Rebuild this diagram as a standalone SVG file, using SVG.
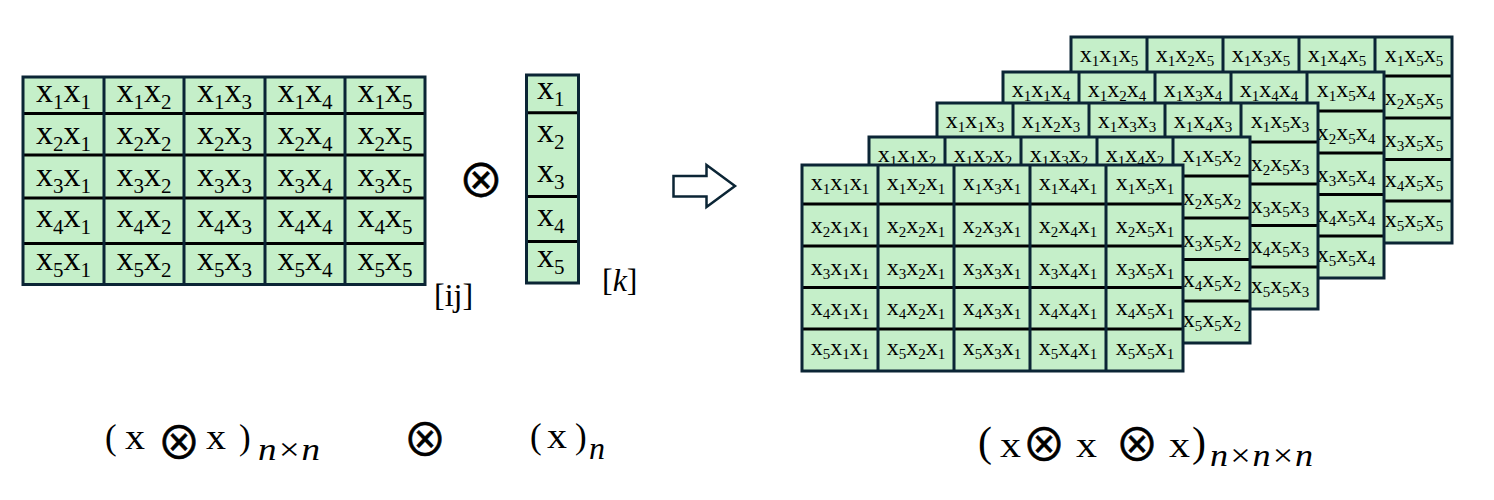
<svg xmlns="http://www.w3.org/2000/svg" width="1494" height="500" viewBox="0 0 1494 500" font-family="'Liberation Serif', serif">
<style>
.cell{fill:#c5efc9}
.hl{stroke:#000;stroke-width:3}
.vl{stroke:#0b2535;stroke-width:3}
.bd{fill:none;stroke:#0b2535;stroke-width:3}
text{font-family:"Liberation Serif","Times New Roman",serif;fill:#000}
.big{font-size:34px;text-anchor:middle}
.big .s{font-size:21px;baseline-shift:-7px}
.vec{font-size:34px}
.vec .s{font-size:21px;baseline-shift:-7px}
.sm{font-size:24px;text-anchor:middle}
.sm .s{font-size:15px;baseline-shift:-4px}
.br{font-size:32px}
.f{font-size:35px}
.fp{font-size:42px}
.fi{font-size:32px;font-style:italic}
.op{font-family:"Noto Sans CJK JP","DejaVu Sans",sans-serif;font-size:44px;stroke:#000;stroke-width:0.6px}
.op46{font-size:46px}
.arrow{fill:#fff;stroke:#0b2535;stroke-width:2.5;stroke-linejoin:miter}
</style>
<defs>
<g id="grid">
<rect class="cell" width="381" height="206"/>
<path class="hl" d="M0 39H381M0 81H381M0 122.5H381M0 164H381"/>
<path class="vl" d="M76 0V206M152 0V206M228 0V206M304 0V206"/>
<rect class="bd" width="381" height="206"/>
</g>
</defs>
<rect width="1494" height="500" fill="#fff"/>

<g id="matrix-xx">
<rect class="cell" x="23" y="77" width="402" height="207.5"/>
<path class="hl" d="M23 113.5H425M23 155H425M23 198H425M23 243.5H425"/>
<path class="vl" d="M104 77V284.5M184 77V284.5M265 77V284.5M345 77V284.5"/>
<rect class="bd" x="23" y="77" width="402" height="207.5"/>
<g class="big">
<text x="63.5" y="102">x<tspan class="s">1</tspan>x<tspan class="s">1</tspan></text>
<text x="144" y="102">x<tspan class="s">1</tspan>x<tspan class="s">2</tspan></text>
<text x="224.5" y="102">x<tspan class="s">1</tspan>x<tspan class="s">3</tspan></text>
<text x="305" y="102">x<tspan class="s">1</tspan>x<tspan class="s">4</tspan></text>
<text x="385" y="102">x<tspan class="s">1</tspan>x<tspan class="s">5</tspan></text>
<text x="63.5" y="144">x<tspan class="s">2</tspan>x<tspan class="s">1</tspan></text>
<text x="144" y="144">x<tspan class="s">2</tspan>x<tspan class="s">2</tspan></text>
<text x="224.5" y="144">x<tspan class="s">2</tspan>x<tspan class="s">3</tspan></text>
<text x="305" y="144">x<tspan class="s">2</tspan>x<tspan class="s">4</tspan></text>
<text x="385" y="144">x<tspan class="s">2</tspan>x<tspan class="s">5</tspan></text>
<text x="63.5" y="186">x<tspan class="s">3</tspan>x<tspan class="s">1</tspan></text>
<text x="144" y="186">x<tspan class="s">3</tspan>x<tspan class="s">2</tspan></text>
<text x="224.5" y="186">x<tspan class="s">3</tspan>x<tspan class="s">3</tspan></text>
<text x="305" y="186">x<tspan class="s">3</tspan>x<tspan class="s">4</tspan></text>
<text x="385" y="186">x<tspan class="s">3</tspan>x<tspan class="s">5</tspan></text>
<text x="63.5" y="227">x<tspan class="s">4</tspan>x<tspan class="s">1</tspan></text>
<text x="144" y="227">x<tspan class="s">4</tspan>x<tspan class="s">2</tspan></text>
<text x="224.5" y="227">x<tspan class="s">4</tspan>x<tspan class="s">3</tspan></text>
<text x="305" y="227">x<tspan class="s">4</tspan>x<tspan class="s">4</tspan></text>
<text x="385" y="227">x<tspan class="s">4</tspan>x<tspan class="s">5</tspan></text>
<text x="63.5" y="270">x<tspan class="s">5</tspan>x<tspan class="s">1</tspan></text>
<text x="144" y="270">x<tspan class="s">5</tspan>x<tspan class="s">2</tspan></text>
<text x="224.5" y="270">x<tspan class="s">5</tspan>x<tspan class="s">3</tspan></text>
<text x="305" y="270">x<tspan class="s">5</tspan>x<tspan class="s">4</tspan></text>
<text x="385" y="270">x<tspan class="s">5</tspan>x<tspan class="s">5</tspan></text>
</g>
<text class="br" x="434" y="306">[ij]</text>
</g>

<g id="op-kron">
<text class="op op46" x="458" y="197">⊗</text>
</g>

<g id="vector-x">
<rect class="cell" x="526.5" y="75" width="52" height="208"/>
<path class="hl" d="M526.5 112.7H578.5M526.5 196.5H578.5M526.5 241.5H578.5"/>
<rect class="bd" x="526.5" y="75" width="52" height="208"/>
<g class="vec">
<text x="537" y="98.5">x<tspan class="s">1</tspan></text>
<text x="537" y="142">x<tspan class="s">2</tspan></text>
<text x="537" y="182">x<tspan class="s">3</tspan></text>
<text x="537" y="226">x<tspan class="s">4</tspan></text>
<text x="537" y="267">x<tspan class="s">5</tspan></text>
</g>
<text class="br" x="602" y="291">[<tspan font-style="italic">k</tspan>]</text>
</g>

<g id="connectors">
<path class="arrow" d="M673.5 176H706.5V165L735 186L706.5 207V196.5H673.5Z"/>
</g>

<g id="layer-5" transform="translate(1071,37)">
<use href="#grid"/>
<g class="sm">
<text x="38" y="25">x<tspan class="s">1</tspan>x<tspan class="s">1</tspan>x<tspan class="s">5</tspan></text>
<text x="114" y="25">x<tspan class="s">1</tspan>x<tspan class="s">2</tspan>x<tspan class="s">5</tspan></text>
<text x="190" y="25">x<tspan class="s">1</tspan>x<tspan class="s">3</tspan>x<tspan class="s">5</tspan></text>
<text x="266" y="25">x<tspan class="s">1</tspan>x<tspan class="s">4</tspan>x<tspan class="s">5</tspan></text>
<text x="343" y="25">x<tspan class="s">1</tspan>x<tspan class="s">5</tspan>x<tspan class="s">5</tspan></text>
<text x="343" y="68">x<tspan class="s">2</tspan>x<tspan class="s">5</tspan>x<tspan class="s">5</tspan></text>
<text x="343" y="110">x<tspan class="s">3</tspan>x<tspan class="s">5</tspan>x<tspan class="s">5</tspan></text>
<text x="343" y="150">x<tspan class="s">4</tspan>x<tspan class="s">5</tspan>x<tspan class="s">5</tspan></text>
<text x="343" y="190">x<tspan class="s">5</tspan>x<tspan class="s">5</tspan>x<tspan class="s">5</tspan></text>
</g>
</g>

<g id="layer-4" transform="translate(1003,72)">
<use href="#grid"/>
<g class="sm">
<text x="38" y="25">x<tspan class="s">1</tspan>x<tspan class="s">1</tspan>x<tspan class="s">4</tspan></text>
<text x="114" y="25">x<tspan class="s">1</tspan>x<tspan class="s">2</tspan>x<tspan class="s">4</tspan></text>
<text x="190" y="25">x<tspan class="s">1</tspan>x<tspan class="s">3</tspan>x<tspan class="s">4</tspan></text>
<text x="266" y="25">x<tspan class="s">1</tspan>x<tspan class="s">4</tspan>x<tspan class="s">4</tspan></text>
<text x="343" y="25">x<tspan class="s">1</tspan>x<tspan class="s">5</tspan>x<tspan class="s">4</tspan></text>
<text x="343" y="68">x<tspan class="s">2</tspan>x<tspan class="s">5</tspan>x<tspan class="s">4</tspan></text>
<text x="343" y="110">x<tspan class="s">3</tspan>x<tspan class="s">5</tspan>x<tspan class="s">4</tspan></text>
<text x="343" y="150">x<tspan class="s">4</tspan>x<tspan class="s">5</tspan>x<tspan class="s">4</tspan></text>
<text x="343" y="190">x<tspan class="s">5</tspan>x<tspan class="s">5</tspan>x<tspan class="s">4</tspan></text>
</g>
</g>

<g id="layer-3" transform="translate(937,103)">
<use href="#grid"/>
<g class="sm">
<text x="38" y="25">x<tspan class="s">1</tspan>x<tspan class="s">1</tspan>x<tspan class="s">3</tspan></text>
<text x="114" y="25">x<tspan class="s">1</tspan>x<tspan class="s">2</tspan>x<tspan class="s">3</tspan></text>
<text x="190" y="25">x<tspan class="s">1</tspan>x<tspan class="s">3</tspan>x<tspan class="s">3</tspan></text>
<text x="266" y="25">x<tspan class="s">1</tspan>x<tspan class="s">4</tspan>x<tspan class="s">3</tspan></text>
<text x="343" y="25">x<tspan class="s">1</tspan>x<tspan class="s">5</tspan>x<tspan class="s">3</tspan></text>
<text x="343" y="68">x<tspan class="s">2</tspan>x<tspan class="s">5</tspan>x<tspan class="s">3</tspan></text>
<text x="343" y="110">x<tspan class="s">3</tspan>x<tspan class="s">5</tspan>x<tspan class="s">3</tspan></text>
<text x="343" y="150">x<tspan class="s">4</tspan>x<tspan class="s">5</tspan>x<tspan class="s">3</tspan></text>
<text x="343" y="190">x<tspan class="s">5</tspan>x<tspan class="s">5</tspan>x<tspan class="s">3</tspan></text>
</g>
</g>

<g id="layer-2" transform="translate(869,137)">
<use href="#grid"/>
<g class="sm">
<text x="38" y="25">x<tspan class="s">1</tspan>x<tspan class="s">1</tspan>x<tspan class="s">2</tspan></text>
<text x="114" y="25">x<tspan class="s">1</tspan>x<tspan class="s">2</tspan>x<tspan class="s">2</tspan></text>
<text x="190" y="25">x<tspan class="s">1</tspan>x<tspan class="s">3</tspan>x<tspan class="s">2</tspan></text>
<text x="266" y="25">x<tspan class="s">1</tspan>x<tspan class="s">4</tspan>x<tspan class="s">2</tspan></text>
<text x="343" y="25">x<tspan class="s">1</tspan>x<tspan class="s">5</tspan>x<tspan class="s">2</tspan></text>
<text x="343" y="68">x<tspan class="s">2</tspan>x<tspan class="s">5</tspan>x<tspan class="s">2</tspan></text>
<text x="343" y="110">x<tspan class="s">3</tspan>x<tspan class="s">5</tspan>x<tspan class="s">2</tspan></text>
<text x="343" y="150">x<tspan class="s">4</tspan>x<tspan class="s">5</tspan>x<tspan class="s">2</tspan></text>
<text x="343" y="190">x<tspan class="s">5</tspan>x<tspan class="s">5</tspan>x<tspan class="s">2</tspan></text>
</g>
</g>

<g id="layer-1" transform="translate(802,165)">
<use href="#grid"/>
<g class="sm">
<text x="38" y="25">x<tspan class="s">1</tspan>x<tspan class="s">1</tspan>x<tspan class="s">1</tspan></text>
<text x="114" y="25">x<tspan class="s">1</tspan>x<tspan class="s">2</tspan>x<tspan class="s">1</tspan></text>
<text x="190" y="25">x<tspan class="s">1</tspan>x<tspan class="s">3</tspan>x<tspan class="s">1</tspan></text>
<text x="266" y="25">x<tspan class="s">1</tspan>x<tspan class="s">4</tspan>x<tspan class="s">1</tspan></text>
<text x="343" y="25">x<tspan class="s">1</tspan>x<tspan class="s">5</tspan>x<tspan class="s">1</tspan></text>
<text x="38" y="68">x<tspan class="s">2</tspan>x<tspan class="s">1</tspan>x<tspan class="s">1</tspan></text>
<text x="114" y="68">x<tspan class="s">2</tspan>x<tspan class="s">2</tspan>x<tspan class="s">1</tspan></text>
<text x="190" y="68">x<tspan class="s">2</tspan>x<tspan class="s">3</tspan>x<tspan class="s">1</tspan></text>
<text x="266" y="68">x<tspan class="s">2</tspan>x<tspan class="s">4</tspan>x<tspan class="s">1</tspan></text>
<text x="343" y="68">x<tspan class="s">2</tspan>x<tspan class="s">5</tspan>x<tspan class="s">1</tspan></text>
<text x="38" y="110">x<tspan class="s">3</tspan>x<tspan class="s">1</tspan>x<tspan class="s">1</tspan></text>
<text x="114" y="110">x<tspan class="s">3</tspan>x<tspan class="s">2</tspan>x<tspan class="s">1</tspan></text>
<text x="190" y="110">x<tspan class="s">3</tspan>x<tspan class="s">3</tspan>x<tspan class="s">1</tspan></text>
<text x="266" y="110">x<tspan class="s">3</tspan>x<tspan class="s">4</tspan>x<tspan class="s">1</tspan></text>
<text x="343" y="110">x<tspan class="s">3</tspan>x<tspan class="s">5</tspan>x<tspan class="s">1</tspan></text>
<text x="38" y="150">x<tspan class="s">4</tspan>x<tspan class="s">1</tspan>x<tspan class="s">1</tspan></text>
<text x="114" y="150">x<tspan class="s">4</tspan>x<tspan class="s">2</tspan>x<tspan class="s">1</tspan></text>
<text x="190" y="150">x<tspan class="s">4</tspan>x<tspan class="s">3</tspan>x<tspan class="s">1</tspan></text>
<text x="266" y="150">x<tspan class="s">4</tspan>x<tspan class="s">4</tspan>x<tspan class="s">1</tspan></text>
<text x="343" y="150">x<tspan class="s">4</tspan>x<tspan class="s">5</tspan>x<tspan class="s">1</tspan></text>
<text x="38" y="190">x<tspan class="s">5</tspan>x<tspan class="s">1</tspan>x<tspan class="s">1</tspan></text>
<text x="114" y="190">x<tspan class="s">5</tspan>x<tspan class="s">2</tspan>x<tspan class="s">1</tspan></text>
<text x="190" y="190">x<tspan class="s">5</tspan>x<tspan class="s">3</tspan>x<tspan class="s">1</tspan></text>
<text x="266" y="190">x<tspan class="s">5</tspan>x<tspan class="s">4</tspan>x<tspan class="s">1</tspan></text>
<text x="343" y="190">x<tspan class="s">5</tspan>x<tspan class="s">5</tspan>x<tspan class="s">1</tspan></text>
</g>
</g>

<g id="formula-xx">
<text><tspan class="f" x="105" y="449">(</tspan><tspan class="f" x="125" y="449" textLength="20" lengthAdjust="spacingAndGlyphs">x</tspan><tspan class="op" x="157" y="458.5">⊗</tspan><tspan class="f" x="206" y="449" textLength="20" lengthAdjust="spacingAndGlyphs">x</tspan><tspan class="f" x="239" y="449">)</tspan><tspan class="fi" x="258" y="460" textLength="62" lengthAdjust="spacingAndGlyphs">n×n</tspan></text>
</g>
<g id="formula-op">
<text class="op" x="403" y="455.5">⊗</text>
</g>
<g id="formula-x">
<text><tspan class="f" x="530" y="448">(</tspan><tspan class="f" x="547" y="448" textLength="20" lengthAdjust="spacingAndGlyphs">x</tspan><tspan class="f" x="575" y="448">)</tspan><tspan class="fi" x="589" y="459">n</tspan></text>
</g>
<g id="formula-xxx">
<text><tspan class="fp" x="978" y="456">(</tspan><tspan class="f" x="1000" y="457" textLength="21" lengthAdjust="spacingAndGlyphs">x</tspan><tspan class="op" x="1022" y="461">⊗</tspan><tspan class="f" x="1076" y="457" textLength="21" lengthAdjust="spacingAndGlyphs">x</tspan><tspan class="op" x="1115" y="461">⊗</tspan><tspan class="f" x="1169" y="457" textLength="21" lengthAdjust="spacingAndGlyphs">x</tspan><tspan class="fp" x="1192" y="456">)</tspan><tspan class="fi" x="1210" y="466" textLength="103" lengthAdjust="spacingAndGlyphs">n×n×n</tspan></text>
</g>
</svg>
